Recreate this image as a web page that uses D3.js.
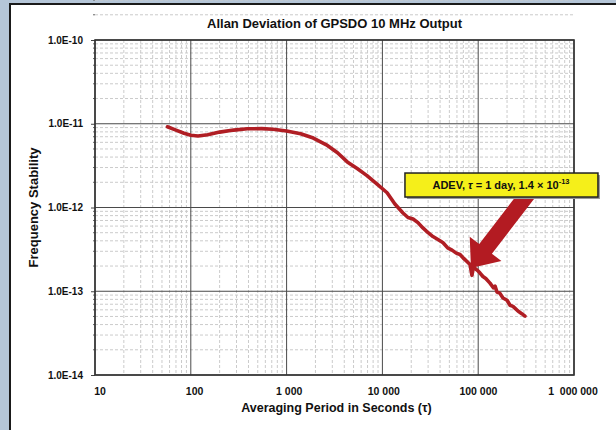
<!DOCTYPE html>
<html>
<head>
<meta charset="utf-8">
<script src="https://cdn.jsdelivr.net/npm/d3@7"></script>
<style>
  html, body { margin: 0; padding: 0; background: #b5c6d8; }
  svg { display: block; font-family: "Liberation Sans", Arial, sans-serif; }
</style>
</head>
<body>
<svg id="chart" width="616" height="430"></svg>
<script>
// averaging period (s) and Allan deviation
const tau = [57, 70, 85, 100, 119, 150, 200, 280, 390, 550, 720, 1000, 1400, 1900, 2600, 3400,
  4300, 5500, 6900, 8800, 11200, 13500, 16400, 18500, 20900, 23500, 26500, 30000, 33700, 38000,
  43000, 48000, 53300, 59000, 64600, 71000, 78300, 82000, 86100, 89000, 92600, 98000, 104500,
  112000, 120000, 132800, 144000, 150000, 157000, 168000, 181400, 200000, 215000, 230700,
  260000, 285000, 308000];
const adev = [9.2e-12, 8.4e-12, 7.7e-12, 7.3e-12, 7.15e-12, 7.4e-12, 7.95e-12, 8.4e-12, 8.7e-12,
  8.75e-12, 8.6e-12, 8.2e-12, 7.6e-12, 6.75e-12, 5.6e-12, 4.5e-12, 3.5e-12, 2.9e-12, 2.4e-12,
  1.9e-12, 1.5e-12, 1.1e-12, 8.6e-13, 7.6e-13, 7.3e-13, 6.6e-13, 5.7e-13, 5.0e-13, 4.5e-13,
  4.15e-13, 3.8e-13, 3.3e-13, 3.1e-13, 2.85e-13, 2.75e-13, 2.45e-13, 2.2e-13, 2.1e-13, 1.55e-13,
  1.95e-13, 1.88e-13, 1.78e-13, 1.65e-13, 1.5e-13, 1.42e-13, 1.25e-13, 1.1e-13, 1.15e-13,
  9.8e-14, 9.5e-14, 8.3e-14, 7.8e-14, 6.8e-14, 6.6e-14, 5.8e-14, 5.4e-14, 5.05e-14];

const xTicks = [10, 100, 1000, 10000, 100000, 1000000];
const xTickLabels = ['10', '100', '1 000', '10 000', '100 000', '1\u00a0 000 000'];
const yTicks = [1e-10, 1e-11, 1e-12, 1e-13, 1e-14];
const yTickLabels = ['1.0E-10', '1.0E-11', '1.0E-12', '1.0E-13', '1.0E-14'];

// annotation: arrow tip and box corner in data units
const noteTip = [84000, 1.9e-13];
const noteBox = [17200, 2.58e-12];

const svg = d3.select('#chart');
const margin = {left: 95, right: 42, top: 40, bottom: 55};
const width = 616, height = 430;

// white panel
svg.append('rect')
  .attr('x', 11).attr('y', 5).attr('width', 620).attr('height', 440)
  .attr('fill', '#8a98a8');
svg.append('rect')
  .attr('x', 10).attr('y', 4).attr('width', 620).attr('height', 440)
  .attr('fill', '#fff').attr('stroke', '#1a1a1a').attr('stroke-width', 2);

const x = d3.scaleLog().domain([10, 1e6]).range([margin.left, width - margin.right]);
const y = d3.scaleLog().domain([1e-14, 1e-10]).range([height - margin.bottom, margin.top]);

const minors = (lo, hi) => {
  const out = [];
  for (let d = lo; d < hi; d *= 10) {
    for (let k = 2; k <= 9; k++) out.push(d * k);
  }
  return out;
};

const grid = svg.append('g');
grid.selectAll('.xm').data(minors(10, 1e6)).join('line')
  .attr('x1', d => x(d)).attr('x2', d => x(d))
  .attr('y1', y.range()[1]).attr('y2', y.range()[0])
  .attr('stroke', '#cbcbcb').attr('stroke-dasharray', '3,2');
grid.selectAll('.ym').data(minors(1e-14, 1e-10)).join('line')
  .attr('y1', d => y(d)).attr('y2', d => y(d))
  .attr('x1', x.range()[0]).attr('x2', x.range()[1])
  .attr('stroke', '#cbcbcb').attr('stroke-dasharray', '3,2');
grid.selectAll('.xM').data(xTicks).join('line')
  .attr('x1', d => x(d)).attr('x2', d => x(d))
  .attr('y1', y.range()[1]).attr('y2', y.range()[0])
  .attr('stroke', '#4a4a4a').attr('stroke-width', 1);
grid.selectAll('.yM').data(yTicks).join('line')
  .attr('y1', d => y(d)).attr('y2', d => y(d))
  .attr('x1', x.range()[0]).attr('x2', x.range()[1])
  .attr('stroke', '#4a4a4a').attr('stroke-width', 1);

// y axis with small outward ticks
const yAxis = svg.append('g').attr('transform', `translate(${margin.left},0)`)
  .call(d3.axisLeft(y).tickValues(yTicks).tickSize(4).tickFormat((d, i) => yTickLabels[i]));
yAxis.select('.domain').remove();
yAxis.selectAll('line').attr('stroke', '#444');
yAxis.selectAll('text').attr('font-size', 10).attr('font-weight', 'bold').attr('fill', '#111')
  .attr('x', -12).attr('font-family', '"Liberation Sans", Arial, sans-serif');
svg.append('g').selectAll('line').data(minors(1e-14, 1e-10)).join('line')
  .attr('x1', margin.left - 2).attr('x2', margin.left)
  .attr('y1', d => y(d)).attr('y2', d => y(d)).attr('stroke', '#666');

// x tick labels
svg.append('g').selectAll('text').data(xTicks).join('text')
  .attr('x', (d, i) => x(d) + 5 - i * 1.2).attr('y', y.range()[0] + 20)
  .attr('text-anchor', 'middle').attr('font-size', 10.5).attr('font-weight', 'bold')
  .attr('fill', '#111').text((d, i) => xTickLabels[i]);

// plot frame
svg.append('rect')
  .attr('x', x.range()[0]).attr('y', y.range()[1])
  .attr('width', x.range()[1] - x.range()[0]).attr('height', y.range()[0] - y.range()[1])
  .attr('fill', 'none').attr('stroke', '#333').attr('stroke-width', 1.6);

// data line
const pts = tau.map((t, i) => [t, adev[i]]);
svg.append('path').datum(pts)
  .attr('d', d3.line().x(d => x(d[0])).y(d => y(d[1])))
  .attr('fill', 'none').attr('stroke', '#b01e24').attr('stroke-width', 3.6)
  .attr('stroke-linejoin', 'round').attr('stroke-linecap', 'round');

// annotation arrow
const tip = [x(noteTip[0]), y(noteTip[1])];
const bx = x(noteBox[0]), by = y(noteBox[1]);
const tail = [tip[0] + 60, tip[1] - 78];
const len = Math.hypot(tail[0] - tip[0], tail[1] - tip[1]);
const u = [(tail[0] - tip[0]) / len, (tail[1] - tip[1]) / len];
const n = [-u[1], u[0]];
const hl = 24, hw = 20, sw = 8;
const P = (b, a, c) => [b[0] + u[0] * a + n[0] * c, b[1] + u[1] * a + n[1] * c];
const arrow = [tip, P(tip, hl, hw), P(tip, hl, sw), P(tail, 0, sw), P(tail, 0, -sw),
  P(tip, hl, -sw), P(tip, hl, -hw)];
svg.append('polygon').attr('points', arrow.map(p => p.join(',')).join(' '))
  .attr('fill', '#b31b22');

// annotation box
svg.append('rect').attr('x', bx + 2).attr('y', by + 2).attr('width', 193).attr('height', 24)
  .attr('fill', '#999');
svg.append('rect').attr('x', bx).attr('y', by).attr('width', 193).attr('height', 24)
  .attr('fill', '#f5ef1a').attr('stroke', '#222').attr('stroke-width', 1.5);
const note = svg.append('text').attr('x', bx + 96).attr('y', by + 16)
  .attr('text-anchor', 'middle').attr('font-size', 11).attr('font-weight', 'bold').attr('fill', '#111');
note.append('tspan').text('ADEV, ');
note.append('tspan').attr('font-style', 'italic').text('τ');
note.append('tspan').text(' = 1 day, 1.4 × 10');
note.append('tspan').attr('font-size', 7.5).attr('dy', -5).text('-13');

// titles
svg.append('text').attr('x', (x.range()[0] + x.range()[1]) / 2).attr('y', 28)
  .attr('text-anchor', 'middle').attr('font-size', 13).attr('font-weight', 'bold')
  .attr('fill', '#111').text('Allan Deviation of GPSDO 10 MHz Output');
svg.append('text').attr('x', (x.range()[0] + x.range()[1]) / 2 + 2).attr('y', 412)
  .attr('text-anchor', 'middle').attr('font-size', 12.5).attr('font-weight', 'bold')
  .attr('fill', '#111').text('Averaging Period in Seconds (τ)');
svg.append('text')
  .attr('transform', `translate(38,${(y.range()[0] + y.range()[1]) / 2}) rotate(-90)`)
  .attr('text-anchor', 'middle').attr('font-size', 13).attr('font-weight', 'bold')
  .attr('fill', '#111').text('Frequency Stability');
</script>
</body>
</html>
